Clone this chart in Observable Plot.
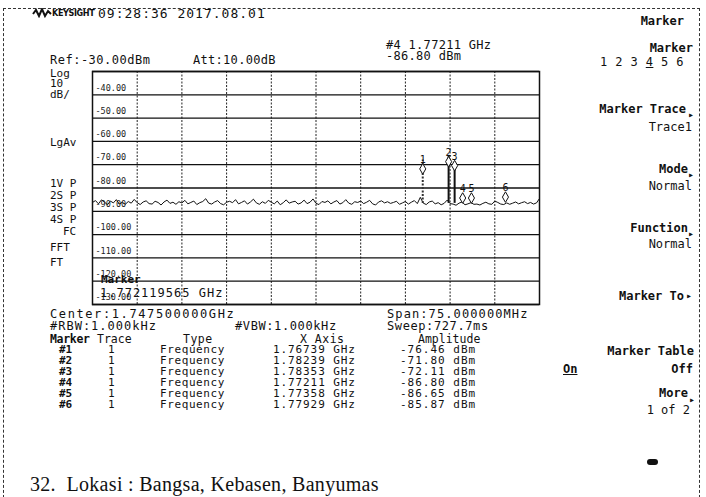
<!DOCTYPE html>
<html>
<head>
<meta charset="utf-8">
<script src="https://cdn.jsdelivr.net/npm/d3@7"></script>
<script src="https://cdn.jsdelivr.net/npm/@observablehq/plot@0.6"></script>
<style>
  html, body { margin: 0; padding: 0; background: #fff; }
  #root { position: relative; width: 706px; height: 497px; overflow: hidden; background: #fff; }
  #root svg.plot { position: absolute; left: 0; top: 0; }
  .t { position: absolute; font-family: "DejaVu Sans Mono", "Liberation Mono", monospace; font-size: 12px; line-height: 12px; color: #111; white-space: pre; }
  .b { font-weight: bold; }
  .frame { position: absolute; left: 3px; top: 8px; width: 697px; height: 500px; border-left: 1.5px dashed #333; border-right: 1.5px dashed #333; border-top: 1.5px dashed #333; box-sizing: border-box; }
  .cap { position: absolute; left: 30px; top: 473px; font-family: "Liberation Serif", "DejaVu Serif", serif; font-size: 20px; letter-spacing: 0.3px; color: #111; white-space: pre; }
  .icon { position: absolute; left: 647px; top: 459px; width: 11px; height: 6px; background: #111; border-radius: 3px; }
</style>
</head>
<body>
<div id="root"><div class="frame"></div><div class="icon"></div></div>
<script>
// ---- data ----
const sweepStartGHz = 1.71;
const sweepStepGHz = 0.0005;
const traceDbm = [
  -86.2,-85.4,-86.8,-85.1,-86.0,-87.2,-85.6,-86.4,-85.0,-86.9,
  -86.1,-87.0,-85.8,-86.5,-84.9,-86.3,-87.1,-86.0,-85.5,-86.7,
  -86.9,-85.7,-86.2,-87.3,-86.0,-85.2,-86.6,-86.1,-87.0,-85.9,
  -86.4,-85.3,-86.8,-86.2,-85.6,-87.1,-86.3,-85.8,-84.6,-86.5,
  -86.9,-86.0,-85.4,-86.7,-87.2,-86.1,-85.7,-86.3,-85.0,-86.8,
  -86.2,-85.5,-86.9,-86.0,-84.8,-86.4,-87.0,-85.9,-86.6,-85.3,
  -86.1,-86.8,-85.6,-87.2,-86.3,-85.1,-86.5,-86.0,-85.7,-86.9,
  -86.4,-85.2,-86.7,-86.1,-84.7,-86.6,-87.1,-85.8,-86.2,-85.5,
  -86.8,-86.0,-85.4,-86.9,-86.3,-85.0,-86.5,-87.0,-85.9,-86.2,
  -85.6,-86.7,-86.1,-85.3,-86.8,-87.3,-86.0,-85.5,-86.4,-85.9,
  -86.6,-86.2,-85.7,-87.0,-86.4,-85.8,-86.9,-86.1,-85.4,-86.7,
  -84.0,-86.5,-87.1,-86.0,-85.6,-86.8,-86.3,-87.2,-86.6,-85.2,
  -86.7,-86.9,-87.4,-86.5,-86.0,-87.2,-86.8,-86.3,-87.0,-86.9,
  -87.3,-86.6,-86.1,-86.8,-87.0,-85.6,-86.2,-86.9,-87.1,-86.4,
  -87.0,-86.5,-86.0,-86.8,-86.3,-85.9,-86.7,-86.2,-86.9,-86.4,
  -84.5
];
const peakFreqGHz = [1.76541, 1.76975, 1.77076];
const peakTopDbm  = [-68.0, -66.0, -69.5];
const peakBaseDbm = [-86.6, -86.6, -86.6];
const peakDash    = ["2,1.5", null, null];

const markerIds     = ["1", "2", "3", "4", "5", "6"];
const markerFreqGHz = [1.76541, 1.76975, 1.77076, 1.77211, 1.77358, 1.77929];
const markerDbm     = [-71.8, -68.7, -70.4, -84.3, -84.3, -83.9];

const yTicksDbm = [-40, -50, -60, -70, -80, -90, -100, -110, -120, -130];
const yGridDbm  = [-30, -40, -50, -60, -70, -80, -90, -100, -110, -120, -130];
const xGridGHz  = [1.71, 1.7175, 1.725, 1.7325, 1.74, 1.7475, 1.755, 1.7625, 1.77, 1.7775, 1.785];

const tableMarkers = ["#1", "#2", "#3", "#4", "#5", "#6"];
const tableTrace   = ["1", "1", "1", "1", "1", "1"];
const tableType    = ["Frequency", "Frequency", "Frequency", "Frequency", "Frequency", "Frequency"];
const tableXAxis   = ["1.76739 GHz", "1.78239 GHz", "1.78353 GHz", "1.77211 GHz", "1.77358 GHz", "1.77929 GHz"];
const tableAmp     = ["-76.46 dBm", "-71.80 dBm", "-72.11 dBm", "-86.80 dBm", "-86.65 dBm", "-85.87 dBm"];

// ---- build tables for Plot ----
const trace = traceDbm.map((v, i) => ({f: sweepStartGHz + i * sweepStepGHz, v}));
const peaks = peakFreqGHz.map((f, i) => ({f, top: peakTopDbm[i], base: peakBaseDbm[i], dash: peakDash[i]}));
const markers = markerIds.map((id, i) => ({id, f: markerFreqGHz[i], v: markerDbm[i]}));

const chart = Plot.plot({
  width: 706,
  height: 497,
  marginLeft: 92,
  marginRight: 167,
  marginTop: 71,
  marginBottom: 193,
  x: {domain: [1.71, 1.785], axis: null},
  y: {domain: [-130, -30], axis: null},
  style: {background: "transparent", fontFamily: "DejaVu Sans Mono", color: "#111"},
  marks: [
    Plot.ruleX(xGridGHz, {stroke: "#222", strokeWidth: 1, strokeDasharray: "2,1.5"}),
    Plot.ruleY(yGridDbm, {stroke: "#111", strokeWidth: 1.3}),
    Plot.text(yTicksDbm, {y: d => d, text: d => d.toFixed(2), frameAnchor: "left", textAnchor: "start", dx: 3, dy: -7, fontSize: 8.5, fill: "#222"}),
    Plot.line(trace, {x: "f", y: "v", stroke: "#111", strokeWidth: 1}),
    Plot.ruleX(peaks.filter(d => d.dash), {x: "f", y1: "base", y2: "top", stroke: "#333", strokeWidth: 2, strokeDasharray: "2,1.5"}),
    Plot.ruleX(peaks.filter(d => !d.dash), {x: "f", y1: "base", y2: "top", stroke: "#111", strokeWidth: 2}),
    Plot.dot(markers, {x: "f", y: "v", symbol: "diamond", r: 3.2, stroke: "#111", fill: "white", strokeWidth: 1}),
    Plot.text(markers, {x: "f", y: "v", text: "id", dy: -9, fontSize: 10, fill: "#111"}),
    Plot.frame({stroke: "#111", strokeWidth: 1.5})
  ]
});
chart.classList.add("plot");
const root = document.getElementById("root");
root.appendChild(chart);

// ---- surrounding instrument screen text ----
function put(txt, x, y, opts = {}) {
  const d = document.createElement("div");
  d.className = "t" + (opts.bold ? " b" : "");
  const fs = opts.size || 12;
  d.style.fontSize = fs + "px";
  d.style.lineHeight = (opts.lh || fs) + "px";
  d.style.top = (y - (opts.lh || fs) / 2) + "px";
  if (opts.right) { d.style.right = (706 - x) + "px"; d.style.textAlign = "right"; }
  else d.style.left = x + "px";
  if (opts.ls != null) d.style.letterSpacing = opts.ls + "px";
  if (opts.family) d.style.fontFamily = opts.family;
  if (opts.html) d.innerHTML = txt; else d.textContent = txt;
  root.appendChild(d);
  return d;
}

// logo
const logo = document.createElementNS("http://www.w3.org/2000/svg", "svg");
logo.setAttribute("width", "20"); logo.setAttribute("height", "10");
logo.style.position = "absolute"; logo.style.left = "32px"; logo.style.top = "8px";
logo.innerHTML = '<path d="M1,6 L4,2 L7,8 L10,1 L13,8 L16,3 L19,6" fill="none" stroke="#111" stroke-width="2"/>';
root.appendChild(logo);
put("KEYSIGHT", 52, 13, {size: 9, bold: true, family: "DejaVu Sans Condensed, DejaVu Sans", ls: -0.4});
put("09:28:36 2017.08.01", 98, 13, {size: 13, ls: 1.0});

put("Ref:-30.00dBm", 50, 60, {size: 12, ls: 0.5});
put("Att:10.00dB", 193, 60, {size: 12, ls: 0.3});
put("#4 1.77211 GHz", 386, 45, {size: 12, ls: 0.3, lh: 11});
put("-86.80 dBm", 386, 56, {size: 12, ls: 0.3, lh: 11});

put("Log", 50, 74, {size: 11, lh: 10}); put("10", 50, 84, {size: 11, lh: 10}); put("dB/", 50, 95, {size: 11, lh: 10});
put("LgAv", 50, 142, {size: 11});
put("1V P", 50, 183, {size: 11, lh: 11}); put("2S P", 50, 195, {size: 11, lh: 11}); put("3S P", 50, 207, {size: 11, lh: 11}); put("4S P", 50, 219, {size: 11, lh: 11});
put("FC", 63, 231, {size: 11, lh: 11}); put("FFT", 50, 247, {size: 11}); put("FT", 50, 262, {size: 11});

put("Marker", 101, 280, {size: 11, bold: true, lh: 10});
put("1.772119565 GHz", 100, 293, {size: 12, ls: 1.0, lh: 11});

put("Center:1.747500000GHz", 50, 314, {size: 12, ls: 1.6, lh: 11});
put("Span:75.000000MHz", 387, 314, {size: 12, ls: 1.1, lh: 11});
put("#RBW:1.000kHz", 50, 326, {size: 12, ls: 1.0, lh: 11});
put("#VBW:1.000kHz", 235, 326, {size: 12, ls: 0.6, lh: 11});
put("Sweep:727.7ms", 387, 326, {size: 12, ls: 0.6, lh: 11});

put("Marker", 50, 339, {size: 11.5, bold: true, ls: -0.3, lh: 11});
put("Trace", 97, 339, {size: 11.5, lh: 11});
put("Type", 183, 339, {size: 11.5, ls: 0.5, lh: 11});
put("X Axis", 300, 339, {size: 11.5, ls: 0.5, lh: 11});
put("Amplitude", 418, 339, {size: 11.5, lh: 11});
tableMarkers.forEach((m, i) => {
  const y = 350 + i * 11;
  put(m, 59, y, {size: 11, bold: true, lh: 10});
  put(tableTrace[i], 108, y, {size: 11, lh: 10});
  put(tableType[i], 160, y, {size: 11, ls: 0.6, lh: 10});
  put(tableXAxis[i], 273, y, {size: 11, ls: 0.9, lh: 10});
  put(tableAmp[i], 400, y, {size: 11, ls: 1.0, lh: 10});
});

// right soft-key panel
put("Marker", 684, 21, {right: true, bold: true});
put("Marker", 693, 48, {right: true, bold: true});
put("1 2 3 <u>4</u> 5 6", 600, 62, {html: true, ls: 0.4});
put("Marker Trace", 686, 109, {right: true, bold: true, ls: 0});
put("▸", 688, 115, {size: 10});
put("Trace1", 692, 127, {right: true});
put("Mode", 688, 169, {right: true, bold: true});
put("▸", 688, 175, {size: 10});
put("Normal", 692, 186, {right: true});
put("Function", 688, 228, {right: true, bold: true, ls: 0});
put("▸", 688, 234, {size: 10});
put("Normal", 692, 244, {right: true});
put("Marker To", 684, 296, {right: true, bold: true});
put("▸", 686, 296, {size: 10});
put("Marker Table", 694, 351, {right: true, bold: true});
put("<u>On</u>", 563, 369, {html: true, bold: true});
put("Off", 693, 369, {right: true, bold: true});
put("More", 688, 393, {right: true, bold: true});
put("▸", 689, 400, {size: 10});
put("1 of 2", 690, 410, {right: true});

const cap = document.createElement("div");
cap.className = "cap";
cap.textContent = "32.  Lokasi : Bangsa, Kebasen, Banyumas";
root.appendChild(cap);
</script>
</body>
</html>
